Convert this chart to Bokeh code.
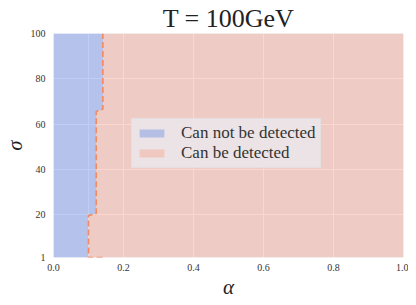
from bokeh.plotting import figure
from bokeh.models import Range1d, FixedTicker, Legend, LegendItem
from bokeh.embed import file_html
from bokeh.resources import INLINE

# boundary between the two regions (alpha, sigma)
boundary_alpha = [0.14, 0.10, 0.10, 0.122, 0.122, 0.141, 0.141]
boundary_sigma = [1, 1, 19.5, 20.5, 65.5, 66.5, 100]
x_ticks = [0.0, 0.2, 0.4, 0.6, 0.8, 1.0]
x_grid = [0.0, 0.1, 0.2, 0.4, 0.6, 0.8, 1.0]
y_ticks = [1, 20, 40, 60, 80, 100]
labels = ["Can not be detected", "Can be detected"]
title_text = "T = 100GeV"

SERIF = "Liberation Serif"

p = figure(frame_width=350, frame_height=224, output_backend="svg", toolbar_location=None,
           x_range=Range1d(0, 1), y_range=Range1d(1, 100),
           min_border_left=45, min_border_right=5, min_border_top=25, min_border_bottom=35,
           background_fill_color="#eaeaf2", border_fill_color="white", outline_line_color=None)

p.title.text = title_text
p.title.align = "center"
p.title.text_font = SERIF
p.title.text_font_size = "26px"
p.title.text_font_style = "normal"
p.title.text_color = "#222222"
p.title.offset = 0
p.title.standoff = 2

# regions
bx = boundary_alpha[1:]
by = boundary_sigma[1:]
blue_x = [0.0] + bx + [0.0]
blue_y = [by[0]] + by + [by[-1]]
red_x = bx + [1.0, 1.0]
red_y = by + [by[-1], by[0]]

blue = p.patch(blue_x, blue_y, fill_color="#7493e5", fill_alpha=0.45, line_color=None)
red = p.patch(red_x, red_y, fill_color="#f7a790", fill_alpha=0.45, line_color=None)
p.line(boundary_alpha, boundary_sigma, line_color="#f28a62", line_width=1.6, line_dash="6 3")

# axes
for ax in (p.xaxis, p.yaxis):
    ax.axis_line_color = None
    ax.major_tick_line_color = None
    ax.minor_tick_line_color = None
    ax.major_tick_out = 0
    ax.major_tick_in = 0
    ax.major_label_text_font = SERIF
    ax.major_label_text_font_size = "10px"
    ax.major_label_text_color = "#333333"
    ax.axis_label_text_font = SERIF
    ax.axis_label_text_font_style = "italic"
    ax.axis_label_text_color = "#222222"

p.xaxis.ticker = FixedTicker(ticks=x_ticks)
p.yaxis.ticker = FixedTicker(ticks=y_ticks)
p.xaxis.major_label_overrides = {t: f"{t:.1f}" for t in x_ticks}
p.xaxis.axis_label = "α"
p.yaxis.axis_label = "σ"
p.xaxis.axis_label_text_font_size = "21px"
p.yaxis.axis_label_text_font_size = "20px"
p.xaxis.major_label_standoff = 6
p.yaxis.major_label_standoff = 8
p.xaxis.axis_label_standoff = 1
p.yaxis.axis_label_standoff = 2

p.xgrid.ticker = FixedTicker(ticks=x_grid)
p.ygrid.ticker = FixedTicker(ticks=y_ticks)
p.grid.grid_line_color = "white"
p.grid.grid_line_width = 1

legend = Legend(items=[LegendItem(label=labels[0], renderers=[blue]),
                       LegendItem(label=labels[1], renderers=[red])],
                location=(78, 89),
                label_text_font=SERIF, label_text_font_size="17px", label_text_color="#333333",
                glyph_width=31, glyph_height=10, label_standoff=14,
                padding=4, spacing=0, margin=0,
                background_fill_color="#ebe6ea", background_fill_alpha=0.9,
                border_line_color="#dcdcdc", border_line_width=1)
p.add_layout(legend)

open("out.html", "w").write(file_html(p, INLINE))
